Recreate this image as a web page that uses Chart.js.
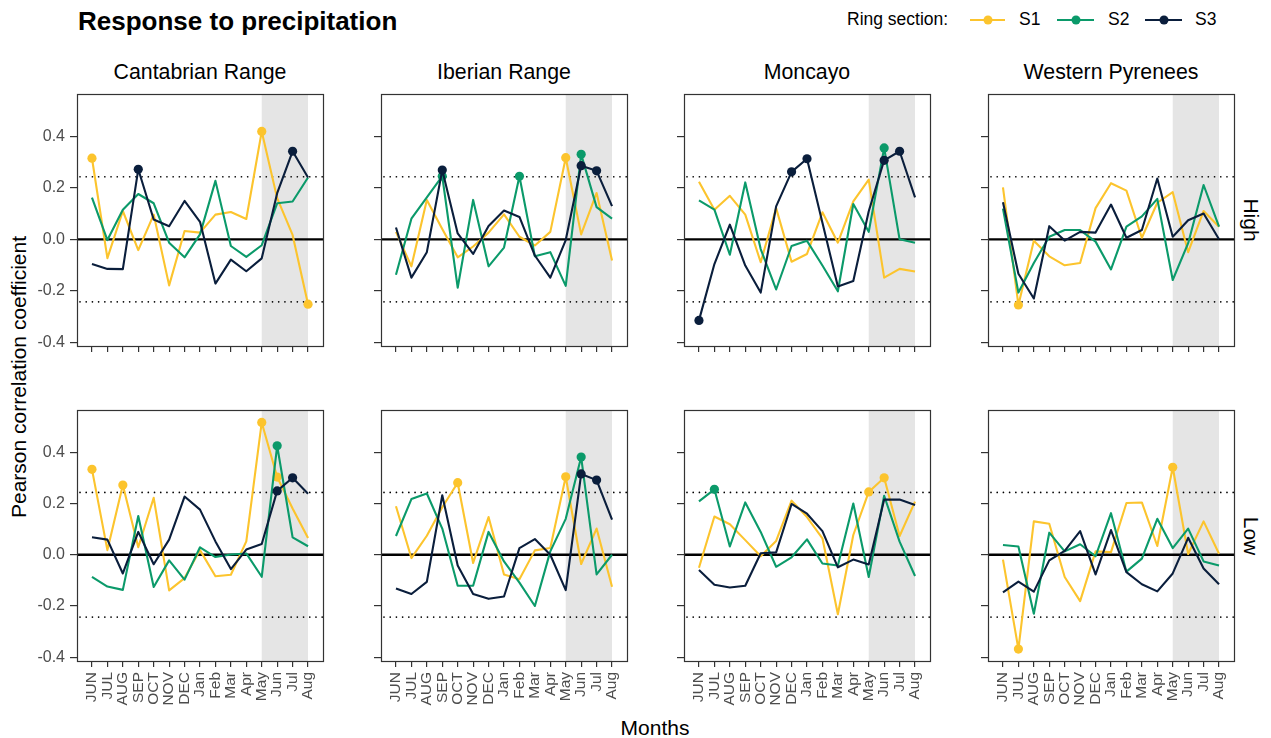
<!DOCTYPE html>
<html>
<head>
<meta charset="utf-8">
<script src="https://cdn.jsdelivr.net/npm/chart.js@4.4.1/dist/chart.umd.min.js"></script>
<style>
body{margin:0;width:1271px;height:738px;position:relative;overflow:hidden;background:#fff;
font-family:"Liberation Sans",Arial,sans-serif;color:#000}
.t{position:absolute;line-height:1;white-space:nowrap}
.c{transform:translate(-50%,-50%)}
.l{transform:translateY(-50%)}
canvas{position:absolute}
.key{position:absolute;height:2px;transform:translateY(-50%)}
.key i{position:absolute;left:50%;top:50%;width:9px;height:9px;border-radius:50%;transform:translate(-50%,-50%)}
</style>
</head>
<body>
<div class="t l" style="left:78px;top:21px;font-size:26px;font-weight:bold">Response to precipitation</div>

<div class="t l" style="left:847px;top:20px;font-size:17.5px">Ring section:</div>
<div class="key" style="left:970px;top:20px;width:35px;background:#FCC42D"><i style="background:#FCC42D"></i></div>
<div class="t l" style="left:1019px;top:20px;font-size:17.5px">S1</div>
<div class="key" style="left:1057px;top:20px;width:37px;background:#0B9A6A"><i style="background:#0B9A6A"></i></div>
<div class="t l" style="left:1108px;top:20px;font-size:17.5px">S2</div>
<div class="key" style="left:1145px;top:20px;width:37px;background:#0A1E3C"><i style="background:#0A1E3C"></i></div>
<div class="t l" style="left:1195px;top:20px;font-size:17.5px">S3</div>

<div id="strips"></div>

<div class="t c" style="left:18px;top:377px;font-size:21px;transform:translate(-50%,-50%) rotate(-90deg)">Pearson correlation coefficient</div>
<div class="t c" style="left:655px;top:727px;font-size:21px">Months</div>

<script>
// months on the x axis
const months = ["JUN","JUL","AUG","SEP","OCT","NOV","DEC","Jan","Feb","Mar","Apr","May","Jun","Jul","Aug"];
const sites = ["Cantabrian Range","Iberian Range","Moncayo","Western Pyrenees"];
const levels = ["High","Low"];
const yTicks = [-0.4,-0.2,0,0.2,0.4];
const seriesNames = ["S1","S2","S3"];
const seriesColors = ["#FCC42D","#0B9A6A","#0A1E3C"];
const SIG = 0.243;        // significance level (dotted lines)
const shadeFrom = 11, shadeTo = 14; // May .. Aug

// HIGH
const cantabrianHighS1 = [0.315,-0.073,0.11,-0.042,0.096,-0.179,0.032,0.026,0.096,0.106,0.079,0.419,0.16,0.017,-0.252];
const cantabrianHighS2 = [0.162,-0.003,0.115,0.176,0.14,-0.013,-0.07,0.019,0.227,-0.026,-0.068,-0.023,0.14,0.147,0.24];
const cantabrianHighS3 = [-0.096,-0.115,-0.116,0.272,0.077,0.051,0.149,0.068,-0.172,-0.079,-0.124,-0.074,0.179,0.342,0.24];

const iberianHighS1 = [0.029,-0.105,0.153,0.04,-0.07,-0.028,0.026,0.097,0.01,-0.024,0.029,0.317,0.019,0.18,-0.082];
const iberianHighS2 = [-0.138,0.08,0.163,0.245,-0.188,0.153,-0.105,-0.032,0.245,-0.066,-0.05,-0.181,0.33,0.125,0.08];
const iberianHighS3 = [0.046,-0.149,-0.05,0.269,0.023,-0.057,0.052,0.112,0.087,-0.063,-0.149,-0.003,0.286,0.266,0.129];

const moncayoHighS1 = [0.224,0.115,0.169,0.096,-0.089,0.121,-0.087,-0.057,0.105,-0.013,0.147,0.232,-0.149,-0.115,-0.125];
const moncayoHighS2 = [0.151,0.115,-0.06,0.221,-0.038,-0.195,-0.026,-0.006,-0.102,-0.202,0.137,0.029,0.355,0.0,-0.013];
const moncayoHighS3 = [-0.315,-0.096,0.057,-0.102,-0.207,0.128,0.262,0.313,0.064,-0.183,-0.162,0.109,0.307,0.342,0.163];

const westernHighS1 = [0.202,-0.255,-0.006,-0.066,-0.101,-0.092,0.121,0.218,0.189,0.006,0.142,0.183,-0.05,0.11,0.049];
const westernHighS2 = [0.119,-0.207,-0.092,0.01,0.036,0.036,-0.009,-0.117,0.049,0.089,0.157,-0.158,-0.015,0.211,0.049];
const westernHighS3 = [0.144,-0.134,-0.23,0.051,-0.005,0.029,0.026,0.135,0.006,0.036,0.236,0.01,0.074,0.1,0.0];

// LOW
const cantabrianLowS1 = [0.333,0.018,0.272,0.029,0.222,-0.139,-0.091,0.018,-0.084,-0.078,0.052,0.516,0.303,0.18,0.065];
const cantabrianLowS2 = [-0.086,-0.124,-0.137,0.151,-0.126,-0.022,-0.097,0.029,-0.009,0.001,0.005,-0.086,0.425,0.068,0.033];
const cantabrianLowS3 = [0.068,0.059,-0.073,0.089,-0.037,0.059,0.227,0.176,0.052,-0.056,0.02,0.042,0.249,0.3,0.238];

const iberianLowS1 = [0.189,-0.013,0.074,0.185,0.281,-0.032,0.147,-0.077,-0.096,0.017,0.026,0.304,-0.036,0.102,-0.125];
const iberianLowS2 = [0.073,0.217,0.239,0.102,-0.121,-0.121,0.089,-0.026,-0.109,-0.2,0.013,0.14,0.381,-0.077,0.0];
const iberianLowS3 = [-0.132,-0.153,-0.106,0.232,-0.042,-0.153,-0.172,-0.163,0.026,0.061,0.0,-0.138,0.315,0.291,0.137];

const moncayoLowS1 = [-0.051,0.149,0.119,0.057,-0.006,0.054,0.211,0.147,0.064,-0.232,0.077,0.245,0.3,0.073,0.207];
const moncayoLowS2 = [0.208,0.255,0.032,0.204,0.089,-0.047,-0.01,0.06,-0.034,-0.042,0.2,-0.087,0.23,0.051,-0.083];
const moncayoLowS3 = [-0.06,-0.117,-0.128,-0.121,0.006,0.009,0.198,0.16,0.092,-0.049,-0.019,-0.038,0.215,0.215,0.194];

const westernLowS1 = [-0.019,-0.368,0.13,0.121,-0.087,-0.181,0.013,0.01,0.202,0.204,0.034,0.341,0.003,0.13,0.004];
const westernLowS2 = [0.038,0.032,-0.23,0.086,0.013,0.041,-0.006,0.162,-0.066,-0.015,0.14,0.026,0.102,-0.026,-0.042];
const westernLowS3 = [-0.147,-0.105,-0.144,-0.022,0.015,0.092,-0.077,0.096,-0.068,-0.115,-0.143,-0.073,0.066,-0.054,-0.115];

const panelData = [
  [[cantabrianHighS1,cantabrianHighS2,cantabrianHighS3],[iberianHighS1,iberianHighS2,iberianHighS3],
   [moncayoHighS1,moncayoHighS2,moncayoHighS3],[westernHighS1,westernHighS2,westernHighS3]],
  [[cantabrianLowS1,cantabrianLowS2,cantabrianLowS3],[iberianLowS1,iberianLowS2,iberianLowS3],
   [moncayoLowS1,moncayoLowS2,moncayoLowS3],[westernLowS1,westernLowS2,westernLowS3]]
];

// layout of the panels (px)
const colLeft = [77,381,684,988];
const rowTop = [94,410];
const rowH = [252,251];
const panelW = 246;

Chart.defaults.font.family = "'Liberation Sans', Arial, sans-serif";
Chart.defaults.color = "#4D4D4D";

// shading, reference lines and the panel box
const decor = {
  id: "decor",
  beforeDatasetsDraw(chart){
    const ctx = chart.ctx, a = chart.chartArea, x = chart.scales.x, y = chart.scales.y;
    ctx.save();
    const x0 = x.getPixelForValue(shadeFrom), x1 = x.getPixelForValue(shadeTo);
    ctx.fillStyle = "#E5E5E5";
    ctx.fillRect(x0, a.top, x1-x0, a.bottom-a.top);

    ctx.strokeStyle = "#000";
    ctx.lineWidth = 1.7;
    ctx.lineCap = "round";
    ctx.setLineDash([0.01,6.2]);
    [SIG,-SIG].forEach(v=>{
      const py = y.getPixelForValue(v);
      ctx.beginPath(); ctx.moveTo(a.left+3,py); ctx.lineTo(a.right,py); ctx.stroke();
    });
    ctx.setLineDash([]);
    ctx.lineCap = "butt";
    ctx.lineWidth = 2.3;
    const pz = y.getPixelForValue(0);
    ctx.beginPath(); ctx.moveTo(a.left,pz); ctx.lineTo(a.right,pz); ctx.stroke();
    ctx.restore();
  },
  afterDraw(chart){
    const ctx = chart.ctx, a = chart.chartArea;
    const l = Math.round(a.left)+0.5, t = Math.round(a.top)+0.5;
    const w = Math.round(a.right)-Math.round(a.left), h = Math.round(a.bottom)-Math.round(a.top);
    ctx.save();
    ctx.strokeStyle = "#333333";
    ctx.lineWidth = 1.2;
    ctx.strokeRect(l, t, w, h);
    ctx.restore();
  }
};

function noPad(s){
  s.paddingTop = 0; s.paddingBottom = 0; s.paddingLeft = 0; s.paddingRight = 0;
}

// resize the canvas until the plot area has the wanted size, then place it
function fitPanel(ch, cv, left, top, w, h){
  for(let k=0;k<4;k++){
    const a = ch.chartArea;
    const dw = w - (a.right - a.left), dh = h - (a.bottom - a.top);
    if(Math.abs(dw) < 0.5 && Math.abs(dh) < 0.5) break;
    ch.resize(Math.round(ch.width + dw), Math.round(ch.height + dh));
  }
  const a = ch.chartArea;
  cv.style.left = Math.round(left - a.left) + "px";
  cv.style.top = Math.round(top - a.top) + "px";
}

function makePanel(r,c){

const yW = c===0 ? 60 : 10;
const xH = r===1 ? 62 : 10;
const cv = document.createElement("canvas");
cv.width = yW + panelW + 2;
cv.height = 2 + rowH[r] + xH;
document.body.appendChild(cv);

const sets = panelData[r][c];

const ch = new Chart(cv, {
  type: "line",
  data: {
    datasets: sets.map((vals,k)=>({
      label: seriesNames[k],
      data: vals.map((v,i)=>({x:i,y:v})),
      borderColor: seriesColors[k],
      backgroundColor: seriesColors[k],
      borderWidth: 2.1,
      borderJoinStyle: "round",
      tension: 0,
      order: 2-k,
      pointRadius: ctx => Math.abs(ctx.parsed.y) >= SIG ? 4.6 : 0,
      pointBorderWidth: 0,
      pointHoverRadius: 0
    }))
  },
  options: {
    responsive: false,
    maintainAspectRatio: false,
    animation: false,
    events: [],
    layout: {autoPadding: false, padding: {top:2, right:2, left:0, bottom:0}},
    plugins: {legend:{display:false}, tooltip:{enabled:false}},
    scales: {
      x: {
        type: "linear", min: -0.97, max: 14.97,
        afterBuildTicks: s => { s.ticks = months.map((m,i)=>({value:i})); },
        afterFit: s => { s.height = xH; noPad(s); },
        ticks: {display: r===1, autoSkip:false, minRotation:90, maxRotation:90, padding:5,
                font:{size:15.5}, color:"#4D4D4D", callback: v => months[v]},
        grid: {drawOnChartArea:false, drawTicks:true, tickLength:6, color:"#333333", lineWidth:1.2},
        border: {display:false}
      },
      y: {
        min: -0.4145, max: 0.5645,
        afterBuildTicks: s => { s.ticks = yTicks.map(v=>({value:v})); },
        afterFit: s => { s.width = yW; noPad(s); },
        ticks: {display: c===0, padding:5, font:{size:16}, color:"#4D4D4D",
                callback: v => v.toFixed(1)},
        grid: {drawOnChartArea:false, drawTicks:true, tickLength:7, color:"#333333", lineWidth:1.2},
        border: {display:false}
      }
    }
  },
  plugins: [decor]
});

fitPanel(ch, cv, colLeft[c], rowTop[r], panelW, rowH[r]);

}

// strip labels
const strips = document.getElementById("strips");
sites.forEach((s,c)=>{
  const d = document.createElement("div");
  d.className = "t c";
  d.style.cssText = "left:"+(colLeft[c]+panelW/2)+"px;top:73px;font-size:21.3px";
  d.textContent = s;
  strips.appendChild(d);
});
levels.forEach((s,r)=>{
  const d = document.createElement("div");
  d.className = "t";
  d.style.cssText = "left:1251px;top:"+(rowTop[r]+rowH[r]/2)+"px;font-size:21px;transform:translate(-50%,-50%) rotate(90deg)";
  d.textContent = s;
  strips.appendChild(d);
});

for(let r=0;r<2;r++){
  for(let c=0;c<4;c++){
    makePanel(r,c);
  }
}
</script>
</body>
</html>
